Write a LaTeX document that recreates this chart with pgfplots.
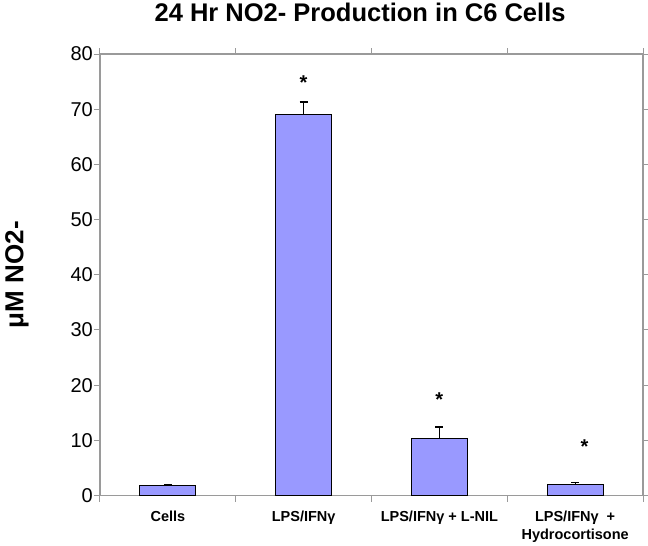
\documentclass[border=0pt]{standalone}
\usepackage{fontspec}
\setmainfont{Liberation Sans}
\usepackage{pgfplots}
\pgfplotsset{compat=1.18}
\definecolor{barfill}{HTML}{9999FF}
\definecolor{axgray}{HTML}{9A9A9A}
\begin{document}
\begin{tikzpicture}[x=1pt,y=1pt]
\useasboundingbox (0,0) rectangle (648,-546);
\begin{axis}[
  at={(100pt,-495.5pt)}, anchor=south west,
  scale only axis, width=543pt, height=441.5pt,
  xmin=-0.5, xmax=3.5, ymin=0, ymax=80,
  ytick={0,10,...,80},
  xtick={0,1,2,3},
  xticklabels={Cells, LPS/IFNγ, LPS/IFNγ + L-NIL, {LPS/IFNγ\ \ +\\Hydrocortisone}},
  minor xtick={-0.5,0.5,1.5,2.5,3.5},
  major x tick style={draw=none},
  tick align=outside,
  tick style={axgray, line width=1pt},
  major tick length=6pt, minor tick length=6pt,
  axis line style={axgray, line width=1.3pt},
  /pgf/number format/assume math mode=true,
  yticklabel style={font=\fontsize{20}{22}\selectfont, inner sep=1pt},
  xticklabel style={font=\bfseries\fontsize{14.5}{18}\selectfont, align=center, yshift=-6pt},
  ylabel={μM NO2-},
  ylabel style={font=\bfseries\fontsize{26}{28}\selectfont, at={(axis description cs:-0.153,0.5)}, anchor=center},
  title={24 Hr NO2- Production in C6 Cells},
  title style={font=\bfseries\fontsize{25.5}{28}\selectfont, at={(axis description cs:0.479,1)}, anchor=base, yshift=27pt},
  clip=false,
]
\addplot[ybar, bar width=56pt, fill=barfill, draw=black, line width=1pt,
  error bars/.cd, y dir=plus, y explicit,
  error bar style={black, line width=1.2pt},
  error mark options={rotate=90, mark size=4pt, line width=1.2pt, black}]
  coordinates {
  (0,1.8) +- (0,0.26)
  (1,69.0) +- (0,2.3)
  (2,10.4) +- (0,2.0)
  (3,2.0) +- (0,0.3)
  };
\addplot[draw=none, nodes near coords={\textbf{*}}, nodes near coords align={center},
  every node near coord/.style={font=\fontsize{20}{22}\selectfont, anchor=center, yshift=-4.4pt, inner sep=0pt}]
  coordinates {(1,75.7) (2,18.1) (3.07,9.6)};
\end{axis}
\end{tikzpicture}
\end{document}
